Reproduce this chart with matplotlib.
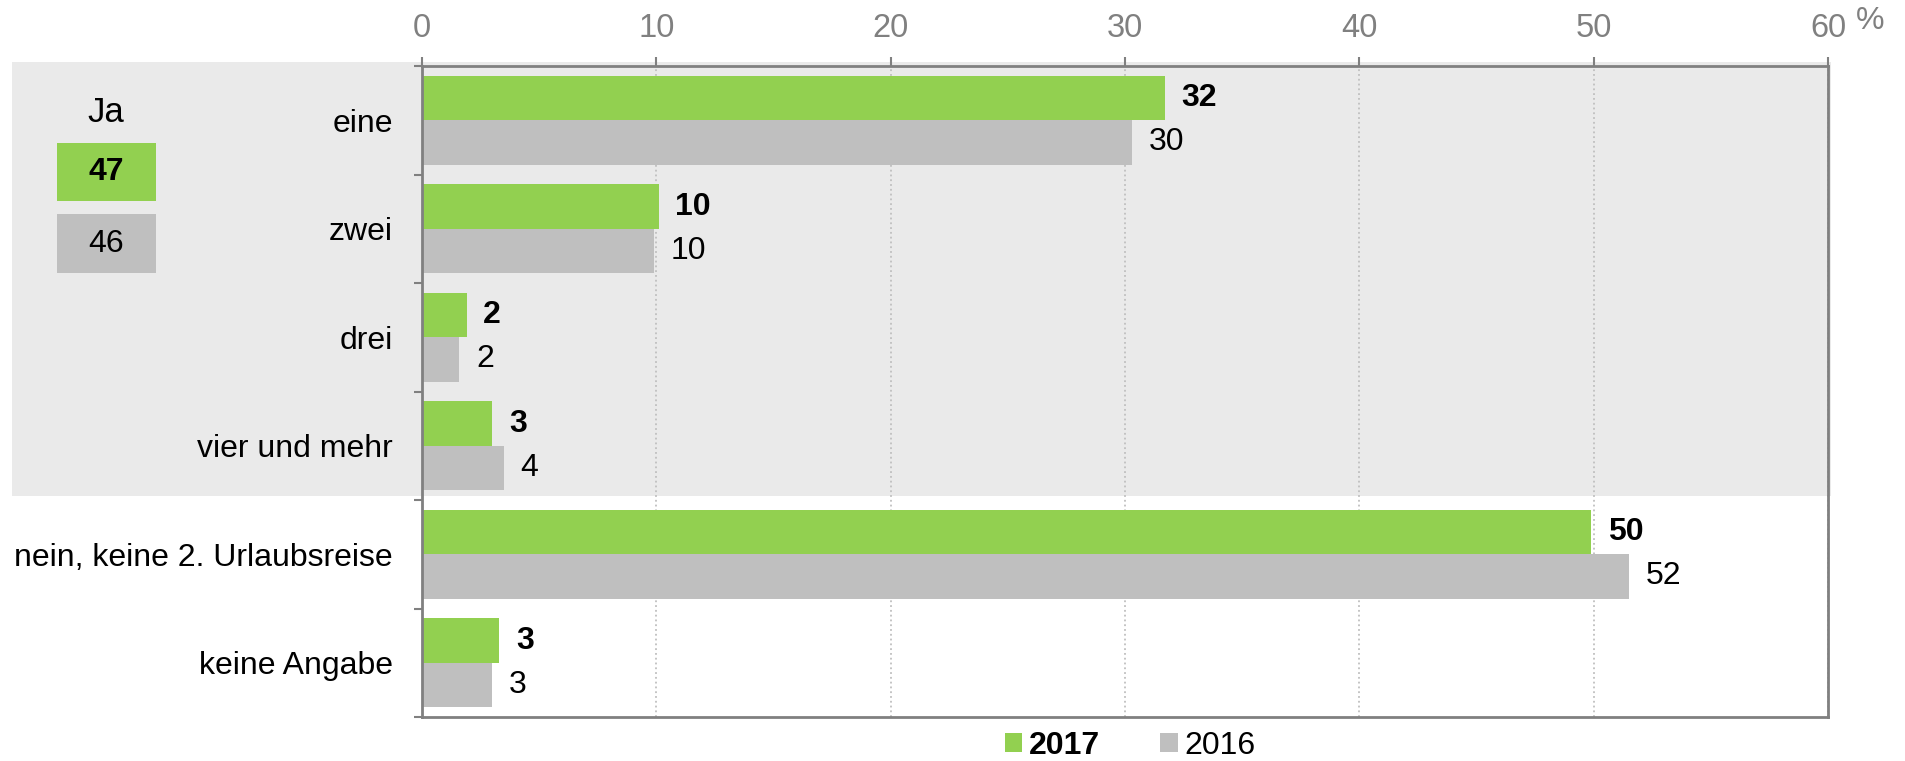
import matplotlib
matplotlib.use("Agg")
import matplotlib.pyplot as plt
from matplotlib.patches import Rectangle, Patch

plt.rcParams['font.family'] = ['Liberation Sans', 'DejaVu Sans']

# Daten
kategorien = ["eine", "zwei", "drei", "vier und mehr",
              "nein, keine 2. Urlaubsreise", "keine Angabe"]
werte_2017 = [31.7, 10.1, 1.9, 3.0, 49.9, 3.3]
werte_2016 = [30.3, 9.9, 1.6, 3.5, 51.5, 3.0]
labels_2017 = ["32", "10", "2", "3", "50", "3"]
labels_2016 = ["30", "10", "2", "4", "52", "3"]
ja_2017 = "47"
ja_2016 = "46"
x_ticks = [0, 10, 20, 30, 40, 50, 60]

GRUEN = "#92D050"
GRAU = "#BFBFBF"
ACHSE = "#808080"
FS = 23

W, H = 1906, 761
fig = plt.figure(figsize=(W / 100, H / 100), dpi=100)

# Achse in Pixelkoordinaten
links, rechts, oben, unten = 422, 1828, 66, 717
ax = fig.add_axes([links / W, 1 - unten / H, (rechts - links) / W, (unten - oben) / H])
ax.set_facecolor("none")

# grauer Hintergrund für "Ja"-Block
band = Rectangle((12 / W, 1 - 496 / H), (1831 - 12) / W, (496 - 62) / H,
                 transform=fig.transFigure, facecolor="#EAEAEA", edgecolor="none", zorder=-1)
fig.add_artist(band)

n = len(kategorien)
mitte = [i + 0.5 for i in range(n)]
h = 0.41
y_gruen = [m - h / 2 for m in mitte]
y_grau = [m + h / 2 for m in mitte]

ax.barh(y_gruen, werte_2017, height=h, color=GRUEN, zorder=2)
ax.barh(y_grau, werte_2016, height=h, color=GRAU, zorder=2)

for y, v, t in zip(y_gruen, werte_2017, labels_2017):
    ax.annotate(t, (v, y), xytext=(12, 0), textcoords="offset points",
                va="center", ha="left", fontsize=FS, fontweight="bold")
for y, v, t in zip(y_grau, werte_2016, labels_2016):
    ax.annotate(t, (v, y), xytext=(12, 0), textcoords="offset points",
                va="center", ha="left", fontsize=FS)

ax.set_xlim(0, 60)
ax.set_ylim(n, 0)
ax.xaxis.tick_top()
ax.set_xticks(x_ticks)
ax.tick_params(axis="x", colors=ACHSE, labelsize=FS + 0.5, length=6.5, width=1.5, pad=9.5)
ax.set_yticks(range(n + 1))
ax.set_yticklabels([])
ax.set_yticks(mitte, minor=True)
ax.set_yticklabels(kategorien, minor=True)
ax.tick_params(axis="y", which="major", colors=ACHSE, length=6, width=1.5)
ax.tick_params(axis="y", which="minor", length=0, pad=21, labelsize=FS, labelcolor="black")

for s in ax.spines.values():
    s.set_color(ACHSE)
    s.set_linewidth(2)

ax.grid(axis="x", linestyle=":", color="#BFBFBF", linewidth=1.3)
ax.set_axisbelow(True)

fig.text(1870 / W, 1 - 21 / H, "%", color=ACHSE, fontsize=FS, ha="center", va="center")

# "Ja"-Kasten links
fig.text(106 / W, 1 - 112 / H, "Ja", fontsize=FS + 2, ha="center", va="center")
fig.add_artist(Rectangle((57 / W, 1 - 201 / H), 99 / W, 58 / H,
                         transform=fig.transFigure, facecolor=GRUEN, edgecolor="none"))
fig.add_artist(Rectangle((57 / W, 1 - 273 / H), 99 / W, 59 / H,
                         transform=fig.transFigure, facecolor=GRAU, edgecolor="none"))
fig.text(106 / W, 1 - 172 / H, ja_2017, fontsize=FS, fontweight="bold", ha="center", va="center")
fig.text(106 / W, 1 - 244 / H, ja_2016, fontsize=FS, ha="center", va="center")

# Legende unten
handles = [Patch(facecolor=GRUEN), Patch(facecolor=GRAU)]
leg = fig.legend(handles, ["2017", "2016"], loc="center", bbox_to_anchor=(1130 / W, 1 - 746 / H),
                 ncol=2, frameon=False, fontsize=FS, handlelength=0.55, handleheight=0.55,
                 handletextpad=0.2, columnspacing=1.9, borderpad=0)
leg.get_texts()[0].set_fontweight("bold")

fig.savefig("out.png", dpi=100)
